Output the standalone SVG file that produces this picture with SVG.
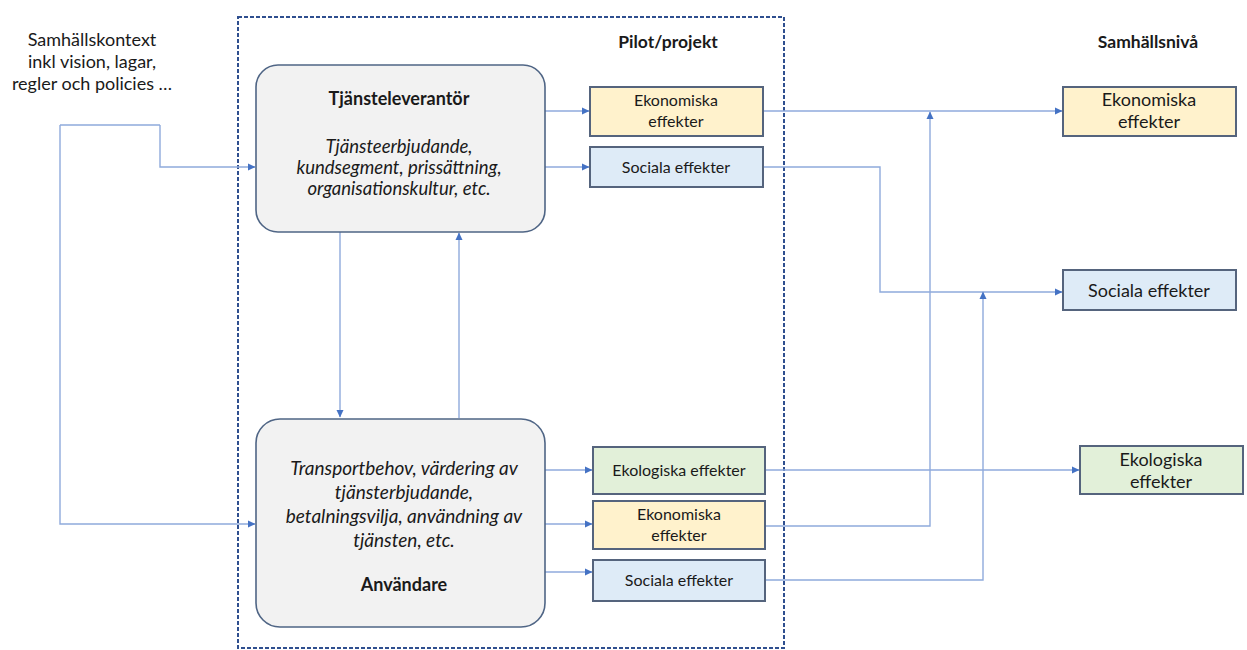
<svg xmlns="http://www.w3.org/2000/svg" width="1247" height="650" viewBox="0 0 1247 650">
<defs>
<style>
text{font-family:Lato,"Liberation Sans",sans-serif;fill:#1a1a1a;text-anchor:middle}
.ctx{font-size:18px}
.hdr{font-size:17.5px;font-weight:bold}
.tt{font-size:18px;font-weight:bold}
.ti{font-size:18.5px;font-style:italic}
.ui{font-size:19px;font-style:italic}
.ub{font-size:18px;font-weight:bold}
.pe{font-size:16px}
.se{font-size:18px}
.main{fill:#F2F2F2;stroke:#4F6585;stroke-width:1.6}
.eko{fill:#FFF2CC;stroke:#55647D;stroke-width:2}
.soc{fill:#DEEBF7;stroke:#55647D;stroke-width:2}
.ekl{fill:#E2F0D9;stroke:#55647D;stroke-width:2}
.c{fill:none;stroke:#8FAADC;stroke-width:1.4}
.a{marker-end:url(#ah)}
</style>
<marker id="ah" markerWidth="8" markerHeight="8" refX="7" refY="4" orient="auto" markerUnits="userSpaceOnUse">
<path d="M0,0.5 L7.5,4 L0,7.5 Z" fill="#4472C4"/>
</marker>
</defs>
<rect width="1247" height="650" fill="#ffffff"/>

<g id="pilot-frame">
<rect x="238" y="17" width="546" height="631" fill="none" stroke="#2F4F8F" stroke-width="2" stroke-dasharray="4,2"/>
<text class="hdr" x="668" y="48">Pilot/projekt</text>
</g>

<g id="samhallsniva-label">
<text class="hdr" x="1148" y="48">Samhällsnivå</text>
</g>

<g id="samhallskontext">
<text class="ctx" x="92" y="46">Samhällskontext</text>
<text class="ctx" x="92" y="68">inkl vision, lagar,</text>
<text class="ctx" x="92" y="90">regler och policies …</text>
</g>

<g id="connectors">
<path class="c a" d="M160,125 H60 M160,125 V167 H255"/>
<path class="c a" d="M60,125 V524 H255"/>
<path class="c a" d="M340,232 V417"/>
<path class="c a" d="M459,418 V233"/>
<path class="c a" d="M545,111 H589"/>
<path class="c a" d="M545,167 H589"/>
<path class="c a" d="M545,470 H592"/>
<path class="c a" d="M545,524 H592"/>
<path class="c a" d="M545,572 H592"/>
<path class="c a" d="M763,111 H1062"/>
<path class="c a" d="M763,167 H880 V292 H1062"/>
<path class="c a" d="M765,470 H1079"/>
<path class="c a" d="M765,526 H930 V112"/>
<path class="c a" d="M765,580 H983 V292"/>
</g>

<g id="tjansteleverantor">
<rect class="main" x="256" y="65" width="289" height="167" rx="22"/>
<text class="tt" x="399" y="105">Tjänsteleverantör</text>
<text class="ti" x="399" y="153">Tjänsteerbjudande,</text>
<text class="ti" x="399" y="174">kundsegment, prissättning,</text>
<text class="ti" x="399" y="195">organisationskultur, etc.</text>
</g>

<g id="anvandare">
<rect class="main" x="256" y="419" width="289" height="208" rx="24"/>
<text class="ui" x="404" y="475">Transportbehov, värdering av</text>
<text class="ui" x="404" y="499">tjänsterbjudande,</text>
<text class="ui" x="404" y="523">betalningsvilja, användning av</text>
<text class="ui" x="404" y="547">tjänsten, etc.</text>
<text class="ub" x="404" y="591">Användare</text>
</g>

<g id="pilot-ekonomiska-1">
<rect class="eko" x="590" y="87" width="173" height="49"/>
<text class="pe" x="676" y="106">Ekonomiska</text>
<text class="pe" x="676" y="127">effekter</text>
</g>

<g id="pilot-sociala-1">
<rect class="soc" x="590" y="147" width="173" height="40"/>
<text class="pe" x="676" y="173">Sociala effekter</text>
</g>

<g id="pilot-ekologiska">
<rect class="ekl" x="593" y="447" width="172" height="47"/>
<text class="pe" x="679" y="476">Ekologiska effekter</text>
</g>

<g id="pilot-ekonomiska-2">
<rect class="eko" x="593" y="501" width="172" height="48"/>
<text class="pe" x="679" y="520">Ekonomiska</text>
<text class="pe" x="679" y="541">effekter</text>
</g>

<g id="pilot-sociala-2">
<rect class="soc" x="593" y="560" width="172" height="41"/>
<text class="pe" x="679" y="586">Sociala effekter</text>
</g>

<g id="samhalle-ekonomiska">
<rect class="eko" x="1063" y="87" width="173" height="49"/>
<text class="se" x="1149" y="106">Ekonomiska</text>
<text class="se" x="1149" y="128">effekter</text>
</g>

<g id="samhalle-sociala">
<rect class="soc" x="1063" y="270" width="173" height="40"/>
<text class="se" x="1149" y="297">Sociala effekter</text>
</g>

<g id="samhalle-ekologiska">
<rect class="ekl" x="1080" y="446" width="163" height="48"/>
<text class="se" x="1161" y="466">Ekologiska</text>
<text class="se" x="1161" y="488">effekter</text>
</g>
</svg>
